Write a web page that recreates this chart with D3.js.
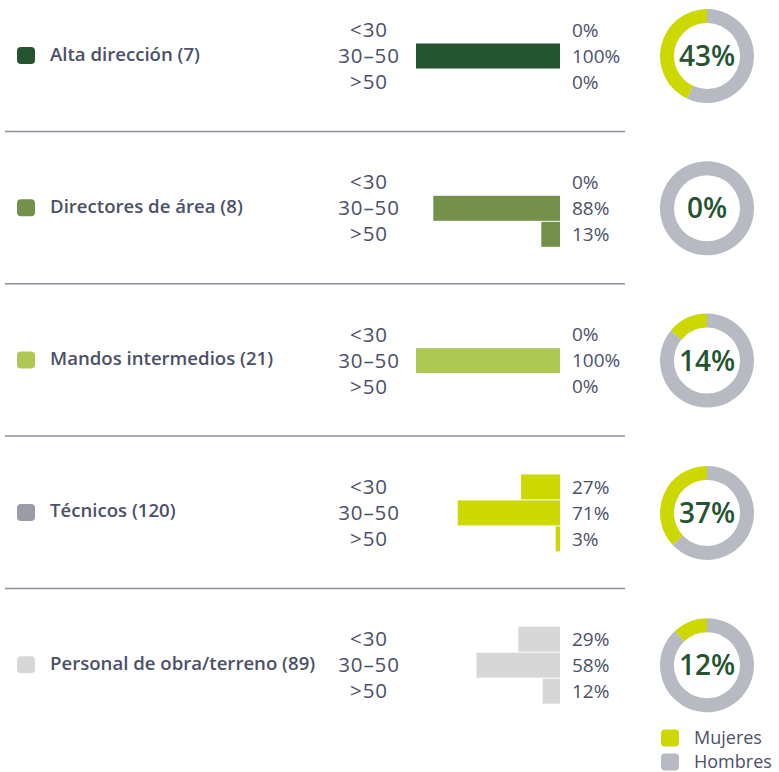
<!DOCTYPE html>
<html>
<head>
<meta charset="utf-8">
<script src="https://cdn.jsdelivr.net/npm/d3@7"></script>
<style>
  html, body { margin: 0; padding: 0; background: #ffffff; }
  svg { display: block; }
  text { font-family: "Open Sans", Lato, "Noto Sans", sans-serif; }
</style>
</head>
<body>
<svg id="chart" width="779" height="772"></svg>
<script>
// Staff groups
const categories = ["Alta dirección (7)", "Directores de área (8)", "Mandos intermedios (21)", "Técnicos (120)", "Personal de obra/terreno (89)"];
const categoryColors = ["#245530", "#74904a", "#afc854", "#9a9caa", "#d7d7d7"];
const barColors = ["#245530", "#74904a", "#afc854", "#cdd800", "#d7d7d7"];
// Age bands and share of each group per band (%)
const ageBands = ["<30", "30–50", ">50"];
const ageShares = [
  [0, 100, 0],
  [0, 88, 13],
  [0, 100, 0],
  [27, 71, 3],
  [29, 58, 12]
];
// Share of women in each group (%)
const womenShare = [43, 0, 14, 37, 12];
const genderLabels = ["Mujeres", "Hombres"];
const genderColors = ["#cdd800", "#b7bac3"];

const svg = d3.select("#chart");
const rowH = 152.3, row0 = 56;
const barRight = 560, barMax = 144, bandStep = 26, barH = 25;
const textCol = "#4b5168";

const x = d3.scaleLinear().domain([0, 100]).range([0, barMax]);
const yBand = d3.scalePoint().domain(ageBands).range([-bandStep, bandStep]);

categories.forEach((cat, i) => {
  const cy = row0 + i * rowH;
  const g = svg.append("g").attr("transform", `translate(0,${cy})`);

  // group marker and name
  g.append("rect").attr("x", 17).attr("y", -9).attr("width", 18).attr("height", 17)
    .attr("rx", 4).attr("fill", categoryColors[i]);
  g.append("text").attr("x", 50).attr("y", -2).attr("dy", "0.35em")
    .attr("font-size", 18.6).attr("font-weight", 600).attr("fill", textCol).text(cat);

  // age bars, right-aligned
  ageBands.forEach((band, j) => {
    const by = yBand(band);
    g.append("text").attr("x", 369).attr("y", by).attr("dy", "0.35em")
      .attr("text-anchor", "middle").attr("font-size", 20.5).attr("letter-spacing", 0.9)
      .attr("fill", textCol).text(band);
    const v = ageShares[i][j];
    if (v > 0) {
      g.append("rect").attr("x", barRight - x(v)).attr("y", by - barH / 2)
        .attr("width", x(v)).attr("height", barH).attr("fill", barColors[i]);
    }
    g.append("text").attr("x", 572).attr("y", by).attr("dy", "0.35em")
      .attr("font-size", 19).attr("fill", textCol).text(v + "%");
  });

  // women / men donut
  const dg = g.append("g").attr("transform", "translate(707,0)");
  const arc = d3.arc().innerRadius(33).outerRadius(47);
  const w = womenShare[i] / 100 * 2 * Math.PI;
  dg.append("path").attr("d", arc({startAngle: 0, endAngle: 2 * Math.PI - w})).attr("fill", genderColors[1]);
  if (w > 0) dg.append("path").attr("d", arc({startAngle: -w, endAngle: 0})).attr("fill", genderColors[0]);
  dg.append("text").attr("y", 0).attr("dy", "0.36em").attr("text-anchor", "middle")
    .attr("font-size", 28).attr("font-weight", 600)
    .attr("fill", "#245530").text(womenShare[i] + "%");

  // separator
  if (i < categories.length - 1) {
    svg.append("line").attr("x1", 5).attr("x2", 625)
      .attr("y1", cy + 75.5).attr("y2", cy + 75.5)
      .attr("stroke", "#8d8e9c").attr("stroke-width", 1.5);
  }
});

// gender legend
genderLabels.forEach((lab, k) => {
  const ly = 738 + k * 24;
  svg.append("rect").attr("x", 661).attr("y", ly - 8.5).attr("width", 18).attr("height", 17)
    .attr("rx", 4).attr("fill", genderColors[k]);
  svg.append("text").attr("x", 694).attr("y", ly).attr("dy", "0.35em")
    .attr("font-size", 18).attr("fill", textCol).text(lab);
});
</script>
</body>
</html>
